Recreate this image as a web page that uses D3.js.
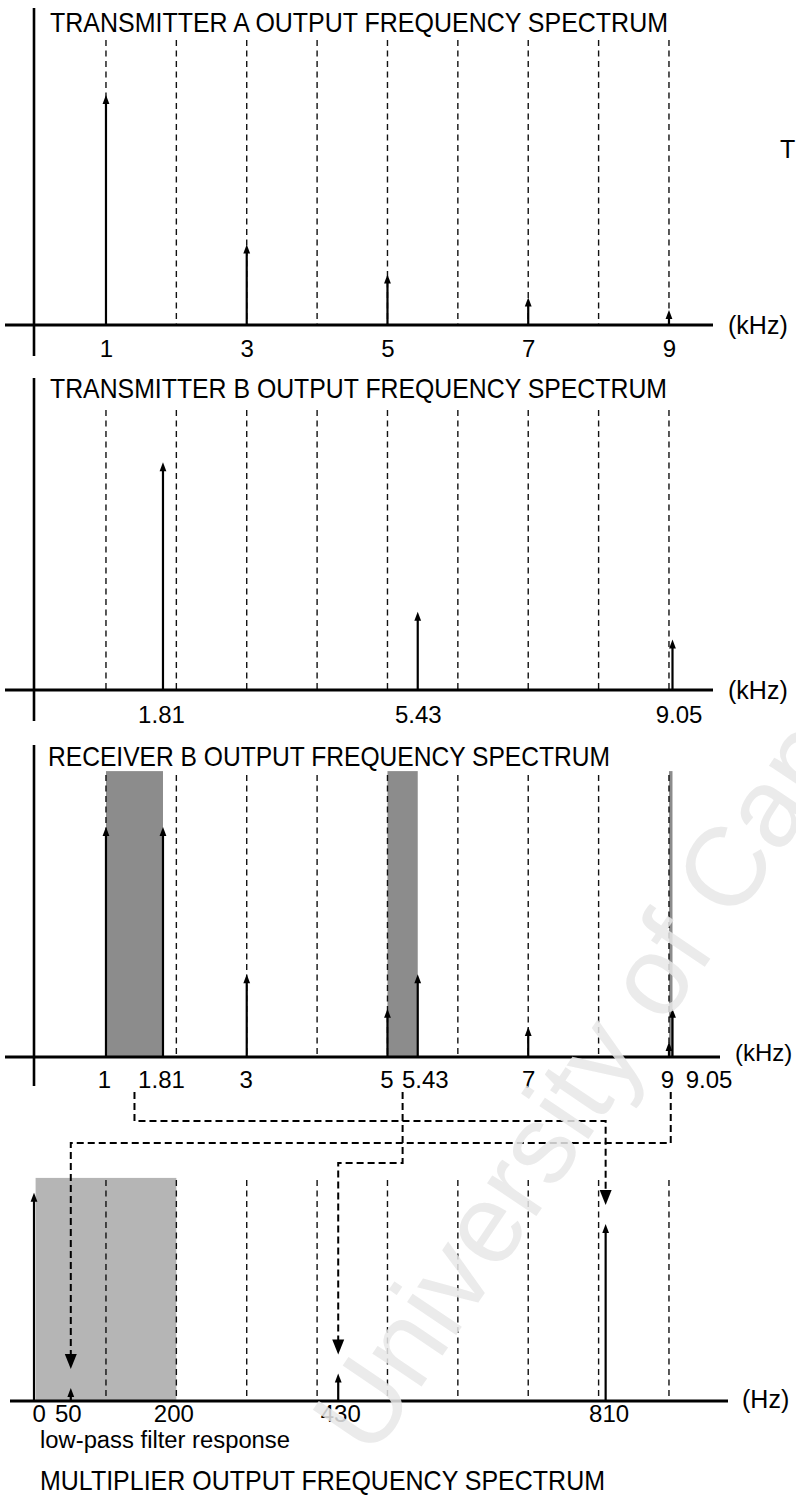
<!DOCTYPE html>
<html><head><meta charset="utf-8">
<script src="https://cdn.jsdelivr.net/npm/d3@7"></script>
<style>body{margin:0;background:#fff}svg{display:block}text{font-family:"Liberation Sans",Arial,sans-serif}</style>
</head><body>
<svg id="c" width="796" height="1498"></svg>
<script>
// ---- data ----
const txAFreq = [1, 3, 5, 7, 9];
const txAAmp  = [1.0, 0.35, 0.22, 0.12, 0.065];
const txBFreq = [1.81, 5.43, 9.05];
const txBAmp  = [0.99, 0.34, 0.22];
const rxFreq  = [1, 1.81, 3, 5, 5.43, 7, 9, 9.05];
const rxAmp   = [1.0, 1.0, 0.36, 0.21, 0.36, 0.13, 0.065, 0.21];
const rxBands = [[1, 1.81], [5, 5.43], [9, 9.05]];
const multFreq = [0, 50, 430, 810];
const multAmp  = [0.905, 0.057, 0.12, 0.77];
const lpfBand  = [0, 200];
const gridKHz  = [1, 2, 3, 4, 5, 6, 7, 8, 9];
const gridHz   = [100, 200, 300, 400, 500, 600, 700, 800, 900];
const ticksA   = [1, 3, 5, 7, 9];
const ticksB   = [1.81, 5.43, 9.05];
const ticksRx  = [1, 1.81, 3, 5, 5.43, 7, 9, 9.05];
const ticksM   = [0, 50, 200, 430, 810];
const mixPairs = [[1, 1.81, 810], [5, 5.43, 430], [9, 9.05, 50]];
const titles = ["TRANSMITTER A OUTPUT FREQUENCY SPECTRUM", "TRANSMITTER B OUTPUT FREQUENCY SPECTRUM",
                "RECEIVER B OUTPUT FREQUENCY SPECTRUM", "MULTIPLIER OUTPUT FREQUENCY SPECTRUM"];

// ---- drawing ----
const svg = d3.select("#c");
const xk = d3.scaleLinear().domain([0, 10]).range([35.6, 739.35]);
const xh = d3.scaleLinear().domain([0, 1000]).range([35.6, 739.35]);
const AMP_PX = 230;
const yScale = base => d3.scaleLinear().domain([0, 1]).range([base, base - AMP_PX]);

function grid(x, vals, base, top) {
  svg.append("g").selectAll("line").data(vals).join("line")
    .attr("x1", d => x(d)).attr("x2", d => x(d)).attr("y1", top).attr("y2", base)
    .attr("stroke", "#111").attr("stroke-width", 1.4).attr("stroke-dasharray", "6,4.5");
}
function spikes(x, y, freqs, amps) {
  const g = svg.append("g");
  freqs.forEach((f, i) => {
    const px = x(f), top = y(amps[i]), b = y(0);
    g.append("line").attr("x1", px).attr("x2", px).attr("y1", b).attr("y2", top + 6)
      .attr("stroke", "#000").attr("stroke-width", 2.2);
    g.append("path").attr("d", `M${px},${top} L${px - 3.4},${top + 9} L${px + 3.4},${top + 9} Z`).attr("fill", "#000");
  });
}
function baseline(base, x1, x2) {
  svg.append("line").attr("x1", x1).attr("x2", x2).attr("y1", base).attr("y2", base)
    .attr("stroke", "#000").attr("stroke-width", 2.8);
}
function leftAxis(y1, y2) {
  svg.append("line").attr("x1", 34).attr("x2", 34).attr("y1", y1).attr("y2", y2)
    .attr("stroke", "#000").attr("stroke-width", 2.6);
}
function ticks(x, vals, base, pad, fmt, offsets) {
  const ax = d3.axisBottom(x).tickValues(vals).tickSize(0).tickPadding(pad).tickFormat(fmt);
  const g = svg.append("g").attr("transform", `translate(0,${base})`).call(ax);
  g.select(".domain").remove();
  g.selectAll("text").attr("font-size", 24).attr("fill", "#000")
    .style("font-family", '"Liberation Sans",Arial,sans-serif')
    .attr("dx", (d, i) => offsets ? offsets[i] : 0);
}
function title(t, x, y, len) {
  svg.append("text").attr("x", x).attr("y", y).attr("font-size", 27.5).attr("fill", "#000")
    .attr("textLength", len).attr("lengthAdjust", "spacingAndGlyphs").text(t);
}
function unit(t, x, y, fs) {
  svg.append("text").attr("x", x).attr("y", y).attr("font-size", fs || 25).attr("fill", "#000").text(t);
}

// Panel 1
const b1 = 325, y1 = yScale(b1);
leftAxis(8, 356);
title(titles[0], 50, 32, 618);
grid(xk, gridKHz, b1, 40);
baseline(b1, 5, 713);
spikes(xk, y1, txAFreq, txAAmp);
ticks(xk, ticksA, b1, 15, d3.format("d"));
unit("(kHz)", 728, 334);
unit("T", 780, 158);

// Panel 2
const b2 = 690, y2 = yScale(b2);
leftAxis(378, 721);
title(titles[1], 50, 398, 617);
grid(xk, gridKHz, b2, 410);
baseline(b2, 5, 713);
spikes(xk, y2, txBFreq, txBAmp);
ticks(xk, ticksB, b2, 16, d3.format(".2f"), [-2, 0, 6]);
unit("(kHz)", 728, 699);

// Panel 3
const b3 = 1057, y3 = yScale(b3);
leftAxis(745, 1086);
title(titles[2], 48, 766, 562);
svg.append("g").selectAll("rect").data(rxBands).join("rect")
  .attr("x", d => xk(d[0])).attr("width", d => xk(d[1]) - xk(d[0]))
  .attr("y", y3(1.243)).attr("height", y3(0) - y3(1.243)).attr("fill", "#8c8c8c");
grid(xk, gridKHz, b3, 775);
baseline(b3, 5, 720);
spikes(xk, y3, rxFreq, rxAmp);
ticks(xk, ticksRx, b3, 14, d => d3.format(Number.isInteger(d) ? "d" : ".2f")(d), [-2, -2, -1, -1, 7, 0, -2, 36]);
unit("(kHz)", 735, 1061, 24);

// Panel 4
const b4 = 1401, y4 = yScale(b4);
svg.append("rect").attr("x", xh(lpfBand[0])).attr("width", xh(lpfBand[1]) - xh(lpfBand[0]))
  .attr("y", y4(0.97)).attr("height", y4(0) - y4(0.97)).attr("fill", "#b5b5b5");
grid(xh, gridHz, b4, 1180);
baseline(b4, 10, 728);
spikes(v => v === 0 ? 34 : xh(v), y4, multFreq, multAmp);
ticks(xh, ticksM, b4, 4, d3.format("d"), [3, -3, -3, 2, 3]);
unit("(Hz)", 742, 1408);
svg.append("text").attr("x", 40).attr("y", 1448).attr("font-size", 23).attr("textLength", 250)
  .attr("lengthAdjust", "spacingAndGlyphs").text("low-pass filter response");
title(titles[3], 40, 1490, 565);

// Connectors from receiver pairs to difference frequencies
const routeY = [1121, 1163, 1143];
mixPairs.forEach((p, i) => {
  const sx = xk((p[0] + p[1]) / 2), ex = xh(p[2]);
  const tip = y4(multAmp[multFreq.indexOf(p[2])]) - 19;
  svg.append("path").attr("d", `M${sx},1092 V${routeY[i]} H${ex} V${tip - 12}`)
    .attr("fill", "none").attr("stroke", "#000").attr("stroke-width", 2).attr("stroke-dasharray", "7,4");
  svg.append("path").attr("d", `M${ex},${tip} L${ex - 6},${tip - 15} L${ex + 6},${tip - 15} Z`).attr("fill", "#000");
});

// watermark
svg.append("text").attr("transform", "translate(372,1460) rotate(-56)")
  .attr("font-size", 112).attr("fill", "#e8e8e8").attr("opacity", 0.85).text("University of Cape Town");
</script>
</body></html>
